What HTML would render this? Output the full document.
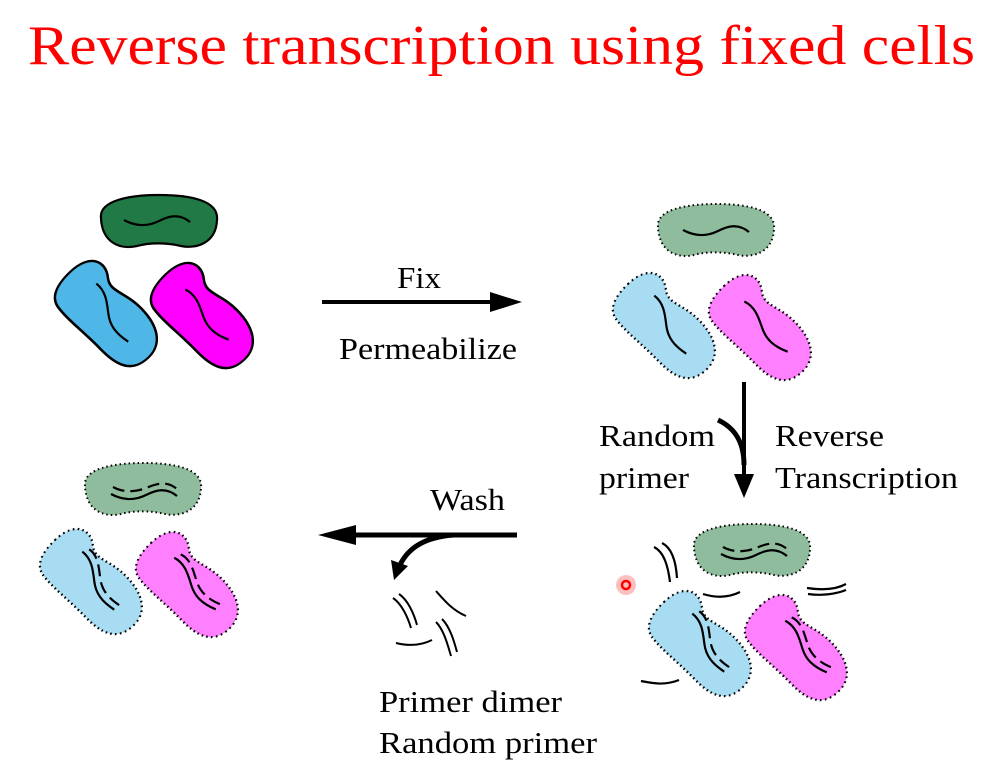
<!DOCTYPE html>
<html><head><meta charset="utf-8"><style>
body{margin:0;background:#fff;}
svg{display:block}
text{font-family:"Liberation Serif",serif;}
</style></head><body>
<svg width="989" height="784" viewBox="0 0 989 784" xmlns="http://www.w3.org/2000/svg">
<defs>
<path id="bean" d="M-58,-4 C-60,-22 -28,-27 0,-27 C30,-27 60,-22 58,-2 C57,22 36,27 22,24 C10,21 -8,20 -22,24 C-40,28 -57,20 -58,-4Z"/>
<path id="rod" d="M-58,0 C-58,-24 -40,-28 -28,-20 C-16,-12 -6,-22 18,-22 C42,-22 58,-14 58,2 C58,22 40,26 18,26 C-6,26 -26,29 -42,27 C-54,25 -58,14 -58,0Z" transform="scale(1,1.2)"/>
<path id="wb" d="M-33,0 C-20,7 -8,6 2,1 S22,-7 33,2" fill="none" stroke="#000" stroke-width="2.2"/>
<path id="wr" d="M-34,-4 C-22,-8 -12,-2 -2,3 S18,8 32,2" fill="none" stroke="#000" stroke-width="2.2"/>
<g id="db"><use href="#wb"/><path d="M-31,-7 C-20,-1 -8,-2 2,-6 S22,-14 33,-5" fill="none" stroke="#000" stroke-width="2.2" stroke-dasharray="12 6"/></g>
<g id="dr"><use href="#wr"/><path d="M-32,-11 C-22,-15 -12,-9 -2,-4 S18,1 32,-5" fill="none" stroke="#000" stroke-width="2.2" stroke-dasharray="12 6"/></g>
</defs>

<text x="28" y="64" font-size="56" fill="#ff0000" textLength="947" lengthAdjust="spacingAndGlyphs">Reverse transcription using fixed cells</text>

<!-- set 1 -->
<g stroke="#000" stroke-width="2.2">
<use href="#bean" transform="translate(159,222)" fill="#217a45"/>
<use href="#rod" transform="translate(110,314) rotate(46)" fill="#4fb6e8"/>
<use href="#rod" transform="translate(206,316) rotate(46)" fill="#ff00ff"/>
</g>
<use href="#wb" transform="translate(157,220)"/>
<use href="#wr" transform="translate(112,314) rotate(56)"/>
<use href="#wr" transform="translate(207,316) rotate(44)"/>

<!-- set 2 -->
<g stroke="#000" stroke-width="2" stroke-dasharray="1.5 3">
<use href="#bean" transform="translate(716,231)" fill="#8fbc9c"/>
<use href="#rod" transform="translate(668,326) rotate(46)" fill="#a8dcf2"/>
<use href="#rod" transform="translate(764,328) rotate(46)" fill="#ff80ff"/>
</g>
<use href="#wb" transform="translate(716,230)"/>
<use href="#wr" transform="translate(670,326) rotate(56)"/>
<use href="#wr" transform="translate(766,328) rotate(44)"/>

<!-- set 3 -->
<g stroke="#000" stroke-width="2" stroke-dasharray="1.5 3">
<use href="#bean" transform="translate(752,551)" fill="#8fbc9c"/>
<use href="#rod" transform="translate(704,644) rotate(46)" fill="#a8dcf2"/>
<use href="#rod" transform="translate(800,648) rotate(46)" fill="#ff80ff"/>
</g>
<use href="#db" transform="translate(754,554)"/>
<use href="#dr" transform="translate(708,644) rotate(56)"/>
<use href="#dr" transform="translate(806,648) rotate(46)"/>

<!-- set 4 -->
<g stroke="#000" stroke-width="2" stroke-dasharray="1.5 3">
<use href="#bean" transform="translate(143,490)" fill="#8fbc9c"/>
<use href="#rod" transform="translate(95,582) rotate(46)" fill="#a8dcf2"/>
<use href="#rod" transform="translate(191,585) rotate(46)" fill="#ff80ff"/>
</g>
<use href="#db" transform="translate(144,494)"/>
<use href="#dr" transform="translate(98,582) rotate(56)"/>
<use href="#dr" transform="translate(195,585) rotate(46)"/>

<!-- stray primers around set 3 -->
<g fill="none" stroke="#000" stroke-width="2.2">
<path d="M654,547 C664,552 668,566 670,582"/><path d="M662,543 C672,548 676,562 677,578"/>
<path d="M703,594 C716,598 728,598 740,592"/>
<path d="M807,588 C820,590 835,590 846,584"/><path d="M808,594 C822,596 836,594 846,590"/>
<path d="M641,681 C652,683 664,686 679,680"/>
</g>
<circle cx="626" cy="585" r="10" fill="#ff0000" opacity="0.25"/>
<circle cx="626" cy="585" r="4" fill="none" stroke="#ff0000" stroke-width="2.5"/>

<!-- primers under wash -->
<g fill="none" stroke="#000" stroke-width="2">
<path d="M393,598 C402,604 408,618 411,628"/><path d="M399,594 C408,600 414,614 417,625"/>
<path d="M436,591 C444,600 452,610 466,616"/>
<path d="M396,643 C408,646 420,646 432,640"/>
<path d="M436,622 C444,630 448,646 451,656"/><path d="M442,619 C450,627 454,641 457,652"/>
</g>

<!-- Fix arrow -->
<line x1="322" y1="302" x2="496" y2="302" stroke="#000" stroke-width="4"/>
<polygon points="522,302 490,292 490,312" fill="#000"/>
<text x="397" y="288" font-size="31" textLength="44" lengthAdjust="spacingAndGlyphs">Fix</text>
<text x="339" y="359" font-size="31" textLength="178" lengthAdjust="spacingAndGlyphs">Permeabilize</text>

<!-- Down arrow -->
<line x1="744" y1="382" x2="744" y2="478" stroke="#000" stroke-width="4"/>
<path d="M718,420 C735,428 744,442 744,465" fill="none" stroke="#000" stroke-width="5"/>
<polygon points="744,498 734,474 754,474" fill="#000"/>
<text x="599" y="446" font-size="31" textLength="116" lengthAdjust="spacingAndGlyphs">Random</text>
<text x="599" y="488" font-size="31" textLength="90" lengthAdjust="spacingAndGlyphs">primer</text>
<text x="775" y="446" font-size="31" textLength="109" lengthAdjust="spacingAndGlyphs">Reverse</text>
<text x="775" y="488" font-size="31" textLength="183" lengthAdjust="spacingAndGlyphs">Transcription</text>

<!-- Wash arrow -->
<line x1="517" y1="535" x2="350" y2="535" stroke="#000" stroke-width="5"/>
<polygon points="318,535 356,525 356,545" fill="#000"/>
<path d="M454,535 C425,537 408,548 400,565" fill="none" stroke="#000" stroke-width="5"/>
<polygon points="394,580 391,560 408,566" fill="#000"/>
<text x="430" y="510" font-size="31" textLength="75" lengthAdjust="spacingAndGlyphs">Wash</text>
<text x="379" y="712" font-size="31" textLength="183" lengthAdjust="spacingAndGlyphs">Primer dimer</text>
<text x="379" y="753" font-size="31" textLength="218" lengthAdjust="spacingAndGlyphs">Random primer</text>
</svg>
</body></html>
